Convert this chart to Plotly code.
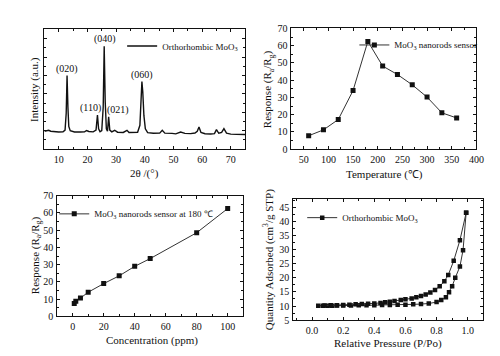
import plotly.graph_objects as go

# ---------------- data ----------------
# (a) XRD pattern
xrd_2theta = [5.0, 5.8, 6.5, 7.2, 8.5, 10.0, 11.5, 12.2, 12.6, 12.9, 13.2, 13.5, 14.0, 15.5, 17.5,
              19.0, 19.7, 20.5, 22.0, 23.0, 23.5, 23.9, 24.4, 25.0, 25.5, 25.85, 26.2, 26.6, 27.0,
              27.4, 27.8, 28.5, 29.5, 30.5, 32.5, 33.8, 34.5, 36.0, 37.5, 38.3, 38.7, 39.0, 39.3,
              39.7, 40.2, 41.0, 43.0, 45.2, 46.1, 47.0, 49.5, 50.8, 52.5, 54.0, 56.0, 57.5, 58.3,
              58.9, 59.6, 61.0, 63.0, 64.3, 65.0, 65.8, 66.8, 67.6, 68.5, 70.0, 72.0, 75.0]
xrd_intensity = [15.0, 15.2, 15.8, 15.0, 14.6, 14.4, 14.6, 16.0, 30.0, 61.5, 35.0, 19.0, 15.5, 14.4, 14.3,
                 14.5, 15.6, 14.8, 14.5, 16.0, 28.5, 17.0, 14.5, 15.5, 35.0, 86.0, 40.0, 17.0, 15.0,
                 27.0, 16.0, 14.5, 15.8, 14.2, 14.0, 15.8, 14.0, 13.8, 14.2, 20.0, 40.0, 56.5, 48.0,
                 28.0, 17.0, 13.8, 13.3, 13.4, 15.8, 13.4, 13.2, 12.8, 14.3, 13.2, 13.0, 13.5, 15.0,
                 18.5, 14.0, 12.9, 12.7, 13.0, 16.3, 13.3, 14.0, 17.2, 13.4, 12.6, 12.4, 12.3]
peak_labels = ["(020)", "(110)", "(040)", "(021)", "(060)"]
peak_label_x = [13.0, 21.0, 26.0, 30.5, 39.2]
peak_label_y = [67, 34, 92, 33, 62]

# (b) response vs temperature
temp_c = [60, 90, 120, 150, 180, 210, 240, 270, 300, 330, 360]
resp_temp = [7.8, 11.2, 17.2, 34.0, 62.5, 48.2, 43.3, 37.3, 30.2, 21.1, 18.1]

# (c) response vs concentration
conc_ppm = [1, 2, 5, 10, 20, 30, 40, 50, 80, 100]
resp_conc = [7.5, 8.8, 10.6, 14.0, 19.0, 23.5, 29.0, 33.5, 48.5, 62.5]

# (d) N2 isotherm
ads_p = [0.04, 0.07, 0.10, 0.13, 0.16, 0.20, 0.25, 0.30, 0.35, 0.40, 0.45, 0.50, 0.55, 0.60, 0.65,
         0.70, 0.75, 0.80, 0.83, 0.86, 0.88, 0.90, 0.92, 0.95, 0.97, 0.99]
ads_q = [10.1, 10.1, 10.1, 10.1, 10.2, 10.2, 10.2, 10.3, 10.3, 10.3, 10.4, 10.4, 10.5, 10.5, 10.6,
         10.7, 10.9, 11.4, 12.1, 13.1, 14.9, 17.0, 20.0, 24.0, 29.8, 43.0]
des_p = [0.99, 0.95, 0.91, 0.875, 0.85, 0.82, 0.79, 0.76, 0.73, 0.70, 0.67, 0.64, 0.60, 0.57, 0.53,
         0.50, 0.47, 0.44, 0.40, 0.36, 0.32, 0.28, 0.24, 0.20, 0.16, 0.12, 0.08]
des_q = [43.0, 33.3, 26.0, 21.0, 18.8, 17.0, 15.7, 14.8, 14.1, 13.6, 13.1, 12.7, 12.4, 12.1, 11.8,
         11.5, 11.3, 11.1, 10.9, 10.8, 10.7, 10.6, 10.5, 10.4, 10.3, 10.3, 10.2]

# axis titles
titles = ["2θ /(°)", "Intensity (a.u.)",
          "Temperature (℃)", "Response (R<sub>a</sub>/R<sub>g</sub>)",
          "Concentration (ppm)", "Response (R<sub>a</sub>/R<sub>g</sub>)",
          "Relative Pressure (P/Po)", "Quantity Adsorbed (cm<sup>3</sup>/g STP)"]

# ---------------- figure ----------------
FONT = "Liberation Serif"
INK = "#111111"
W, H = 500, 356
fig = go.Figure()

fig.add_trace(go.Scatter(x=xrd_2theta, y=xrd_intensity, mode="lines",
                         line=dict(color=INK, width=1.4), name="Orthorhombic MoO<sub>3</sub>",
                         xaxis="x", yaxis="y", legend="legend"))
mk = dict(symbol="square", size=5, color=INK)
fig.add_trace(go.Scatter(x=temp_c, y=resp_temp, mode="lines+markers",
                         line=dict(color="#333333", width=1), marker=mk,
                         name="MoO<sub>3</sub> nanorods sensor",
                         xaxis="x2", yaxis="y2", legend="legend2"))
fig.add_trace(go.Scatter(x=conc_ppm, y=resp_conc, mode="lines+markers",
                         line=dict(color="#333333", width=1), marker=mk,
                         name="MoO<sub>3</sub> nanorods sensor at 180 ℃",
                         xaxis="x3", yaxis="y3", legend="legend3"))
mk4 = dict(symbol="square", size=4.5, color=INK)
fig.add_trace(go.Scatter(x=ads_p, y=ads_q, mode="lines+markers",
                         line=dict(color="#333333", width=1), marker=mk4,
                         name="Orthorhombic MoO<sub>3</sub>",
                         xaxis="x4", yaxis="y4", legend="legend4"))
fig.add_trace(go.Scatter(x=des_p, y=des_q, mode="lines+markers",
                         line=dict(color="#333333", width=1), marker=mk4,
                         showlegend=False, xaxis="x4", yaxis="y4"))

for t, px, py in zip(peak_labels, peak_label_x, peak_label_y):
    fig.add_annotation(x=px, y=py, xref="x", yref="y", text=t, showarrow=False,
                       font=dict(family=FONT, size=10, color=INK))

# axis title placement (pixels of the 500x356 page)
title_pos = [(139, 165, 0), (27, 78, -90),
             (383, 166, 0), (265, 78, -90),
             (146, 338, 0), (28, 250, -90),
             (386, 341, 0), (265, 254, -90)]
for t, (px, py, ang) in zip(titles, title_pos):
    fig.add_annotation(x=px / W, y=1 - py / H, xref="paper", yref="paper", text=t,
                       showarrow=False, textangle=ang, xanchor="center", yanchor="middle",
                       font=dict(family=FONT, size=11, color=INK))

def ax(domain, rng, dtick, minor, anchor, showlabels=True, fmt=None):
    d = dict(domain=domain, range=rng, dtick=dtick, anchor=anchor,
             showline=True, linecolor=INK, linewidth=1, mirror="allticks",
             ticks="inside", ticklen=3, tickcolor=INK, showgrid=False, zeroline=False,
             showticklabels=showlabels, ticklabelstandoff=1,
             minor=dict(dtick=minor, ticks="inside", ticklen=2, tickcolor=INK, showgrid=False),
             tickfont=dict(family=FONT, size=10, color=INK))
    if fmt:
        d["tickformat"] = fmt
    return d

def leg(x, y, size=9):
    return dict(x=x, y=y, xanchor="left", yanchor="middle", bgcolor="rgba(0,0,0,0)",
                font=dict(family=FONT, size=size, color=INK), itemwidth=30, tracegroupgap=0)

fig.update_layout(
    width=W, height=H, margin=dict(l=0, r=0, t=0, b=0),
    paper_bgcolor="white", plot_bgcolor="white", showlegend=True,
    xaxis=ax([0.074, 0.482], [5, 75], 10, 5, "y"),
    yaxis=ax([0.607, 0.955], [0, 100], 15.4, 7.7, "x", showlabels=False),
    xaxis2=ax([0.576, 0.952], [25, 400], 50, 25, "y2"),
    yaxis2=ax([0.607, 0.958], [0, 70], 10, 5, "x2"),
    xaxis3=ax([0.100, 0.478], [-10, 110], 20, 10, "y3"),
    yaxis3=ax([0.121, 0.472], [0, 70], 10, 5, "x3"),
    xaxis4=ax([0.580, 0.966], [-0.12, 1.1], 0.2, 0.1, "y4", fmt=".1f"),
    yaxis4=ax([0.110, 0.463], [5, 48], 5, 2.5, "x4"),
    legend=leg(0.232, 0.907),
    legend2=leg(0.704, 0.910),
    legend3=leg(0.094, 0.419),
    legend4=leg(0.598, 0.408),
)

fig.write_html("out.html")
